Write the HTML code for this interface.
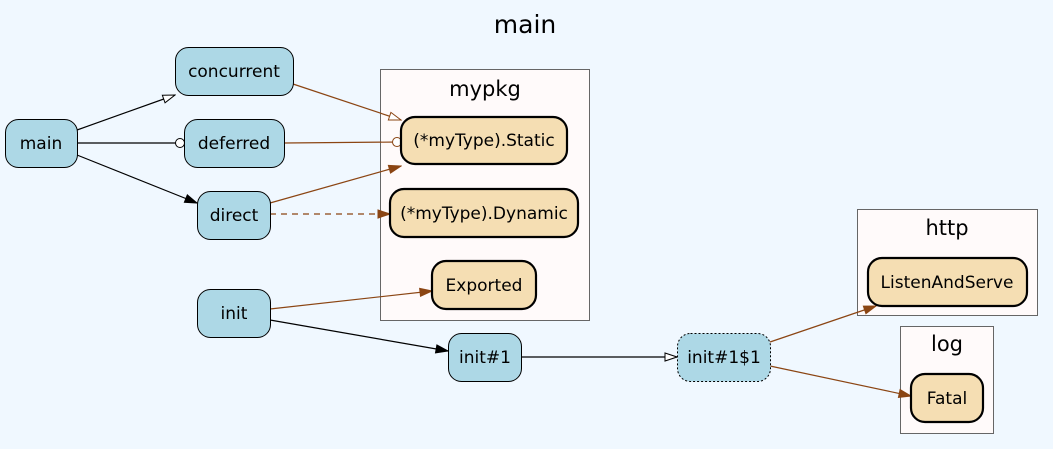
<!DOCTYPE html>
<html><head><meta charset="utf-8"><style>
html,body{margin:0;padding:0;background:#f0f8ff;}
svg{display:block;font-family:"DejaVu Sans","Liberation Sans",sans-serif;}
</style></head><body>
<svg width="1053" height="449" viewBox="0 0 1053 449" xmlns="http://www.w3.org/2000/svg">
<defs>
<marker id="hb" markerWidth="14" markerHeight="10" refX="13" refY="5" orient="auto" markerUnits="userSpaceOnUse"><path d="M1,1 L13,5 L1,9 Z" fill="#fff" stroke="#000" stroke-width="1"/></marker>
<marker id="fb" markerWidth="14" markerHeight="10" refX="13" refY="5" orient="auto" markerUnits="userSpaceOnUse"><path d="M1,1 L13,5 L1,9 Z" fill="#000" stroke="#000" stroke-width="1"/></marker>
<marker id="ob" markerWidth="12" markerHeight="12" refX="10" refY="6" orient="auto" markerUnits="userSpaceOnUse"><circle cx="6" cy="6" r="4.5" fill="#fff" stroke="#000" stroke-width="1"/></marker>
<marker id="hr" markerWidth="14" markerHeight="10" refX="13" refY="5" orient="auto" markerUnits="userSpaceOnUse"><path d="M1,1 L13,5 L1,9 Z" fill="#fff" stroke="#8b4513" stroke-width="1"/></marker>
<marker id="fr" markerWidth="14" markerHeight="10" refX="13" refY="5" orient="auto" markerUnits="userSpaceOnUse"><path d="M1,1 L13,5 L1,9 Z" fill="#8b4513" stroke="#8b4513" stroke-width="1"/></marker>
<marker id="or" markerWidth="12" markerHeight="12" refX="10" refY="6" orient="auto" markerUnits="userSpaceOnUse"><circle cx="6" cy="6" r="4.5" fill="#fff" stroke="#8b4513" stroke-width="1"/></marker>
</defs>
<rect width="1053" height="449" fill="#f0f8ff"/>
<text x="525" y="33" font-size="25" text-anchor="middle">main</text>

<rect x="380.5" y="69.5" width="209" height="251" fill="#fffafa" stroke="#666"/>
<text x="485" y="96" font-size="21" text-anchor="middle">mypkg</text>
<rect x="857.5" y="209.5" width="180" height="106" fill="#fffafa" stroke="#666"/>
<text x="947" y="235" font-size="21" text-anchor="middle">http</text>
<rect x="900.5" y="326.5" width="93" height="107" fill="#fffafa" stroke="#666"/>
<text x="947" y="351" font-size="21" text-anchor="middle">log</text>

<g fill="none" stroke-width="1.2">
<line x1="77" y1="130" x2="175" y2="95" stroke="#000" marker-end="url(#hb)"/>
<line x1="77" y1="143" x2="184" y2="143" stroke="#000" marker-end="url(#ob)"/>
<line x1="77" y1="155" x2="197" y2="203" stroke="#000" marker-end="url(#fb)"/>
<line x1="293" y1="84" x2="401" y2="120" stroke="#8b4513" marker-end="url(#hr)"/>
<line x1="284" y1="143" x2="401" y2="142" stroke="#8b4513" marker-end="url(#or)"/>
<line x1="270" y1="203" x2="401" y2="166" stroke="#8b4513" marker-end="url(#fr)"/>
<line x1="270" y1="214" x2="390" y2="214" stroke="#8b4513" stroke-dasharray="6,5" marker-end="url(#fr)"/>
<line x1="270" y1="309" x2="432" y2="291" stroke="#8b4513" marker-end="url(#fr)"/>
<line x1="270" y1="320" x2="448" y2="351" stroke="#000" marker-end="url(#fb)"/>
<line x1="521" y1="357" x2="677" y2="357" stroke="#000" marker-end="url(#hb)"/>
<line x1="770" y1="342" x2="876" y2="306" stroke="#8b4513" marker-end="url(#fr)"/>
<line x1="770" y1="366" x2="911" y2="396" stroke="#8b4513" marker-end="url(#fr)"/>
</g>

<g fill="#add8e6" stroke="#000" stroke-width="1">
<rect x="5.5" y="119.5" width="72" height="48" rx="13"/>
<rect x="175.5" y="47.5" width="118" height="48" rx="13"/>
<rect x="184.5" y="119.5" width="100" height="48" rx="13"/>
<rect x="197.5" y="191.5" width="73" height="48" rx="13"/>
<rect x="197.5" y="289.5" width="73" height="48" rx="13"/>
<rect x="448.5" y="333.5" width="73" height="48" rx="13"/>
<rect x="677.5" y="333.5" width="93" height="48" rx="13" stroke-dasharray="2,2"/>
</g>
<g fill="#f5deb3" stroke="#000" stroke-width="2.2">
<rect x="401" y="117" width="166" height="47" rx="14"/>
<rect x="390" y="189" width="188" height="48" rx="14"/>
<rect x="432" y="261" width="104" height="48" rx="14"/>
<rect x="868" y="258" width="159" height="48" rx="14"/>
<rect x="911" y="374" width="72" height="48" rx="14"/>
</g>

<g font-size="17" text-anchor="middle" fill="#000">
<text x="41" y="149">main</text>
<text x="234" y="77">concurrent</text>
<text x="234" y="149">deferred</text>
<text x="234" y="221">direct</text>
<text x="234" y="319">init</text>
<text x="485" y="363">init#1</text>
<text x="724" y="363">init#1$1</text>
<text x="484" y="146">(*myType).Static</text>
<text x="484" y="219">(*myType).Dynamic</text>
<text x="484" y="291">Exported</text>
<text x="947" y="288">ListenAndServe</text>
<text x="947" y="404">Fatal</text>
</g>
</svg>
</body></html>
